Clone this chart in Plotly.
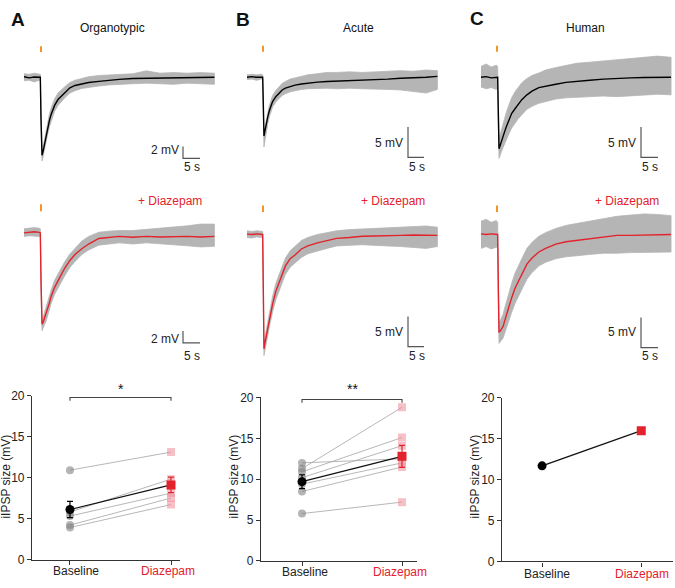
import plotly.graph_objects as go

W, H = 675, 588
FONT = "Liberation Sans, Arial, Helvetica, sans-serif"
RED = "#e3222b"
ORANGE = "#f0962a"
BAND = "#b5b5b5"

# ---------------- recorded traces (time in s, potential in mV) ----------------
tA = [0, 1.5, 3, 4.5, 4.8, 5.0, 5.3, 5.6, 6, 6.5, 7, 7.5, 8, 9, 10, 11, 12, 13.5, 15, 17,
      19, 22, 25, 28, 32, 36, 40, 44, 48, 52, 56]
A_ctrl_mean = [0.1, -0.1, 0.05, 0.0, 0.0, -7.0, -13.3, -12.7, -11.5, -9.8, -8.5, -7.3, -6.3, -4.8, -3.8,
               -3.2, -2.6, -1.8, -1.4, -1.1, -0.9, -0.7, -0.5, -0.35, -0.2, -0.15, -0.15, -0.1, -0.05, -0.05, 0.0]
A_ctrl_upper = [0.6, 0.5, 0.7, 0.5, 0.5, -5.5, -12.5, -11.9, -10.6, -8.8, -7.3, -6.2, -5.2, -3.7, -2.7,
                -2.1, -1.6, -0.9, -0.5, -0.2, 0.1, 0.3, 0.4, 0.5, 0.6, 1.1, 0.7, 0.8, 0.7, 0.8, 0.7]
A_ctrl_lower = [-0.6, -0.5, -0.8, -0.5, -0.6, -8.5, -14.3, -13.6, -12.4, -10.8, -9.6, -8.4, -7.4, -5.8, -4.8,
                -4.2, -3.5, -2.7, -2.3, -1.9, -1.7, -1.5, -1.3, -1.2, -1.1, -1.0, -1.1, -1.2, -1.0, -1.1, -1.2]
A_dzp_mean = [0.1, 0.2, 0.3, 0.2, 0.1, -8.0, -15.5, -15.2, -14.5, -13.8, -13.0, -11.8, -10.7, -9.2, -8.1,
              -7.0, -5.9, -4.6, -3.6, -2.6, -1.8, -0.85, -0.7, -0.5, -0.65, -0.5, -0.6, -0.5, -0.5, -0.6, -0.5]
A_dzp_upper = [0.8, 0.9, 1.0, 0.9, 0.8, -6.5, -14.7, -14.3, -13.5, -12.7, -11.9, -10.7, -9.6, -8.0, -6.9,
               -5.8, -4.8, -3.5, -2.5, -1.3, -0.5, 0.2, 0.4, 0.5, 0.5, 0.7, 0.8, 1.0, 1.3, 1.6, 1.6]
A_dzp_lower = [-0.5, -0.4, -0.4, -0.5, -0.6, -9.5, -16.6, -16.3, -15.6, -15.0, -14.2, -13.0, -11.9, -10.4, -9.4,
               -8.3, -7.2, -5.8, -4.8, -3.6, -2.8, -2.0, -1.8, -1.6, -1.8, -1.6, -1.7, -1.9, -2.1, -2.3, -2.2]

tB = [0, 1.5, 3, 4.5, 4.9, 5.1, 5.3, 5.6, 6, 6.5, 7, 7.5, 8, 9, 10, 11, 12, 13.5, 15, 17,
      19, 22, 25, 28, 32, 36, 40, 44, 48, 52, 56, 59.5]
B_ctrl_mean = [0.0, 0.1, 0.0, 0.05, 0.0, -4.5, -9.7, -8.9, -7.7, -6.5, -5.5, -4.7, -4.0, -3.2, -2.7, -2.1,
               -1.8, -1.5, -1.3, -1.1, -0.95, -0.8, -0.7, -0.65, -0.55, -0.5, -0.4, -0.3, -0.15, -0.1, 0.0, 0.15]
B_ctrl_upper = [0.4, 0.5, 0.4, 0.5, 0.4, -3.5, -9.0, -8.2, -7.0, -5.7, -4.6, -3.8, -3.0, -2.2, -1.6, -1.0,
                -0.7, -0.3, -0.1, 0.2, 0.4, 0.6, 0.8, 0.8, 0.9, 0.8, 0.9, 1.0, 1.1, 1.0, 1.2, 1.1]
B_ctrl_lower = [-0.4, -0.3, -0.5, -0.3, -0.4, -6.0, -11.5, -10.6, -9.0, -7.6, -6.5, -5.6, -4.9, -4.1, -3.5, -3.0,
                -2.7, -2.4, -2.2, -2.0, -1.9, -1.8, -1.8, -1.9, -1.8, -1.9, -2.0, -2.0, -2.1, -2.3, -2.6, -2.0]
B_dzp_mean = [0.05, 0.0, 0.1, 0.0, 0.0, -9.2, -18.9, -17.9, -16.8, -15.5, -13.9, -12.4, -11.5, -9.4, -7.9, -6.6,
              -5.2, -4.0, -3.4, -2.4, -1.9, -1.4, -1.05, -0.65, -0.5, -0.3, -0.25, -0.15, -0.15, -0.1, -0.15, -0.15]
B_dzp_upper = [0.6, 0.5, 0.6, 0.5, 0.5, -7.5, -18.0, -17.0, -15.8, -14.4, -12.8, -11.2, -10.2, -8.1, -6.6, -5.2,
               -3.9, -2.7, -2.0, -1.0, -0.5, 0.0, 0.3, 0.6, 0.8, 0.9, 1.0, 1.0, 1.1, 1.2, 1.4, 1.2]
B_dzp_lower = [-0.5, -0.6, -0.4, -0.5, -0.5, -11.0, -20.0, -19.0, -17.9, -16.7, -15.2, -13.8, -12.8, -10.8, -9.3, -8.0,
               -6.6, -5.4, -4.8, -3.8, -3.2, -2.7, -2.3, -1.9, -1.8, -1.7, -1.8, -1.9, -2.0, -2.1, -2.3, -2.0]

tC = [0, 1.5, 3, 4.5, 4.9, 5.1, 5.3, 5.6, 6, 6.5, 7, 7.5, 8, 9, 10, 11, 12, 13.5, 15, 17,
      19, 22, 25, 28, 32, 36, 40, 44, 48, 52, 55.9]
C_ctrl_mean = [0.0, 0.1, -0.1, 0.0, 0.0, -6.1, -11.8, -11.3, -10.5, -9.7, -8.9, -8.1, -7.4, -6.0, -5.2,
               -4.4, -3.7, -2.9, -2.3, -1.7, -1.45, -1.15, -0.85, -0.65, -0.5, -0.3, -0.15, -0.1, -0.03, 0.0, 0.0]
C_ctrl_upper = [1.8, 2.2, 1.7, 2.0, 1.8, -4.0, -10.0, -9.5, -8.6, -7.6, -6.6, -5.7, -4.9, -3.4, -2.4,
                -1.6, -0.9, -0.2, 0.3, 0.7, 1.2, 1.6, 2.0, 2.3, 2.5, 2.7, 3.0, 3.2, 3.3, 3.5, 3.3]
C_ctrl_lower = [-1.6, -1.9, -1.7, -2.0, -1.7, -8.0, -13.4, -13.0, -12.3, -11.6, -10.9, -10.2, -9.6, -8.4, -7.6,
                -6.8, -6.2, -5.3, -4.8, -4.3, -4.0, -3.6, -3.4, -3.3, -3.2, -3.1, -3.2, -3.0, -2.9, -2.8, -2.9]
C_dzp_mean = [0.1, 0.0, 0.1, 0.0, 0.0, -9.2, -16.1, -16.0, -15.6, -15.2, -14.2, -13.2, -12.3, -10.5, -8.9,
              -7.7, -6.6, -4.9, -3.9, -2.9, -2.3, -1.6, -1.2, -1.0, -0.65, -0.4, -0.15, -0.15, -0.1, 0.0, 0.0]
C_dzp_upper = [2.2, 2.5, 2.0, 2.3, 2.0, -7.0, -14.5, -14.3, -13.8, -13.2, -12.1, -11.0, -10.0, -8.1, -6.4,
               -5.1, -4.0, -2.3, -1.3, -0.3, 0.3, 1.0, 1.5, 1.8, 2.2, 2.6, 3.0, 3.2, 3.4, 3.3, 3.1]
C_dzp_lower = [-2.3, -2.0, -2.4, -2.1, -2.2, -11.0, -18.0, -17.9, -17.5, -17.1, -16.3, -15.4, -14.6, -12.9, -11.4,
               -10.2, -9.1, -7.4, -6.3, -5.2, -4.6, -4.0, -3.7, -3.5, -3.3, -3.1, -3.1, -3.0, -3.0, -2.9, -2.9]

stim_time = {"A": 5.0, "B": 5.0, "C": 4.7}
scale_mV = {"A": 2, "B": 5, "C": 5}
scale_s = {"A": 5, "B": 5, "C": 5}

# ---------------- summary data (iIPSP size, mV) ----------------
conditions = ["Baseline", "Diazepam"]
A_baseline = [10.9, 5.8, 5.3, 4.2, 3.9]
A_diazepam = [13.1, 9.8, 8.1, 7.5, 6.7]
A_mean = [6.1, 9.1]
A_sem = [1.0, 0.95]
B_baseline = [12.0, 11.3, 10.9, 10.2, 9.4, 8.5, 5.8]
B_diazepam = [12.5, 18.8, 15.1, 14.1, 12.0, 11.5, 7.2]
B_mean = [9.7, 12.8]
B_sem = [0.85, 1.35]
C_baseline = [11.7]
C_diazepam = [16.0]
C_mean = [11.7, 16.0]
y_ticks = [0, 5, 10, 15, 20]

fig = go.Figure()
annotations = []
layout_axes = {}


def ax_key(prefix, i):
    return prefix + ("axis" if i == 1 else "axis%d" % i)


def note(x, y, text, size=12, color="#222", **kw):
    d = dict(x=x / W, y=1 - y / H, xref="paper", yref="paper", text=text, showarrow=False,
             xanchor="center", yanchor="middle", font=dict(size=size, color=color, family=FONT))
    d.update(kw)
    annotations.append(d)


def add_trace_panel(i, col, t, mean, upper, lower, color, box, anchor, stim_v, bar_px, label_px):
    xa, ya = ("x" if i == 1 else "x%d" % i), ("y" if i == 1 else "y%d" % i)
    left, right, top, bottom = box
    x0, pps, y0, ppm = anchor
    fig.add_trace(go.Scatter(x=t + t[::-1], y=upper + lower[::-1], fill="toself", fillcolor=BAND,
                             line=dict(color=BAND, width=0.8), mode="lines", xaxis=xa, yaxis=ya,
                             hoverinfo="skip", showlegend=False))
    fig.add_trace(go.Scatter(x=t, y=mean, mode="lines", line=dict(color=color, width=1.4),
                             xaxis=xa, yaxis=ya, showlegend=False))
    ts = stim_time[col]
    fig.add_trace(go.Scatter(x=[ts, ts], y=list(stim_v), mode="lines", line=dict(color=ORANGE, width=2),
                             xaxis=xa, yaxis=ya, showlegend=False))
    bx, by = bar_px
    bt = (bx - x0) / pps
    bv = -(by - y0) / ppm
    dv, dt = scale_mV[col], scale_s[col]
    fig.add_trace(go.Scatter(x=[bt, bt, bt + dt], y=[bv + dv, bv, bv], mode="lines",
                             line=dict(color="#555555", width=1.2), xaxis=xa, yaxis=ya, showlegend=False))
    (mx, my), (sx, sy) = label_px
    annotations.append(dict(x=(mx - x0) / pps, y=-(my - y0) / ppm, xref=xa, yref=ya, text="%g mV" % dv,
                            showarrow=False, xanchor="right", yanchor="middle",
                            font=dict(size=12, color="#222", family=FONT)))
    annotations.append(dict(x=(sx - x0) / pps, y=-(sy - y0) / ppm, xref=xa, yref=ya, text="%g s" % dt,
                            showarrow=False, xanchor="center", yanchor="middle",
                            font=dict(size=12, color="#222", family=FONT)))
    layout_axes[ax_key("x", i)] = dict(domain=[left / W, right / W], range=[(left - x0) / pps, (right - x0) / pps],
                                       visible=False, anchor=ya, fixedrange=True)
    layout_axes[ax_key("y", i)] = dict(domain=[1 - bottom / H, 1 - top / H],
                                       range=[-(bottom - y0) / ppm, -(top - y0) / ppm],
                                       visible=False, anchor=xa, fixedrange=True)


add_trace_panel(1, "A", tA, A_ctrl_mean, A_ctrl_upper, A_ctrl_lower, "#000000", (0, 225, 30, 178),
                (24, 3.4, 72, 6.0), (5.3, 4.3), (183, 155), ((181, 147), (192, 164)))
add_trace_panel(2, "A", tA, A_dzp_mean, A_dzp_upper, A_dzp_lower, RED, (0, 225, 185, 372),
                (24, 3.4, 232, 6.0), (5.0, 3.8), (183, 344), ((181, 340), (192, 358)))
add_trace_panel(3, "B", tB, B_ctrl_mean, B_ctrl_upper, B_ctrl_lower, "#000000", (225, 450, 30, 178),
                (247, 3.2, 72, 6.2), (5.2, 4.2), (408, 154), ((405, 139), (417, 164)))
add_trace_panel(4, "B", tB, B_dzp_mean, B_dzp_upper, B_dzp_lower, RED, (225, 450, 185, 372),
                (247, 3.2, 233, 6.2), (4.8, 3.7), (408, 348), ((405, 333), (417, 358)))
add_trace_panel(5, "C", tC, C_ctrl_mean, C_ctrl_upper, C_ctrl_lower, "#000000", (450, 675, 30, 178),
                (481, 3.4, 72, 6.2), (5.2, 4.2), (641, 154), ((638, 139), (650, 164)))
add_trace_panel(6, "C", tC, C_dzp_mean, C_dzp_upper, C_dzp_lower, RED, (450, 675, 185, 372),
                (481, 3.4, 233, 6.2), (4.8, 3.7), (641, 349), ((638, 333), (650, 358)))

PT_GRAY = "rgba(130,130,130,0.6)"
PT_PINK = "rgba(240,140,152,0.55)"
LINE_GRAY = "rgba(170,170,170,0.85)"


def add_summary(i, base, dzp, mean, sem, xbox, ybox, xrange_, stars, title_x, cat_px, cat_y):
    xa, ya = "x%d" % i, "y%d" % i
    if len(base) > 1:
        for b, d in zip(base, dzp):
            fig.add_trace(go.Scatter(x=[0, 1], y=[b, d], mode="lines+markers",
                                     line=dict(color=LINE_GRAY, width=1),
                                     marker=dict(symbol=["circle", "square"], size=8,
                                                 color=[PT_GRAY, PT_PINK], line=dict(width=0)),
                                     xaxis=xa, yaxis=ya, showlegend=False))
    if sem is not None:
        fig.add_trace(go.Scatter(x=[0], y=[mean[0]], mode="markers", marker=dict(size=1, color="rgba(0,0,0,0)"),
                                 error_y=dict(type="data", array=[sem[0]], color="#000", thickness=1.2, width=3),
                                 xaxis=xa, yaxis=ya, showlegend=False))
        fig.add_trace(go.Scatter(x=[1], y=[mean[1]], mode="markers", marker=dict(size=1, color="rgba(0,0,0,0)"),
                                 error_y=dict(type="data", array=[sem[1]], color=RED, thickness=1.2, width=3),
                                 xaxis=xa, yaxis=ya, showlegend=False))
    fig.add_trace(go.Scatter(x=[0, 1], y=mean, mode="lines+markers", line=dict(color="#111", width=1.2),
                             marker=dict(symbol=["circle", "square"], size=9, color=["#000000", RED],
                                         line=dict(width=0)),
                             xaxis=xa, yaxis=ya, showlegend=False))
    if stars:
        fig.add_trace(go.Scatter(x=[0, 0, 1, 1], y=[19.35, 19.75, 19.75, 19.35], mode="lines",
                                 line=dict(color="#444", width=1.1), xaxis=xa, yaxis=ya, showlegend=False))
        annotations.append(dict(x=0.5, y=1 - 391 / H, xref=xa, yref="paper", text=stars, showarrow=False,
                                xanchor="center", yanchor="middle",
                                font=dict(size=14, color="#111", family=FONT)))
    note(title_x, 481, "iIPSP size (mV)", textangle=-90)
    for txt, cx, clr in zip(conditions, cat_px, ["#222", RED]):
        note(cx, cat_y, txt, color=clr)
    axcommon = dict(showline=True, linecolor="#333", linewidth=1.2, ticks="outside", ticklen=4, tickwidth=1.1,
                    tickcolor="#333", showgrid=False, zeroline=False, fixedrange=True,
                    tickfont=dict(size=12, color="#222", family=FONT))
    layout_axes[ax_key("x", i)] = dict(domain=[xbox[0] / W, xbox[1] / W], range=xrange_, anchor=ya,
                                       tickvals=[0, 1], showticklabels=False, **axcommon)
    layout_axes[ax_key("y", i)] = dict(domain=[1 - ybox[0] / H, 1 - ybox[1] / H], range=[0, 20], anchor=xa,
                                       tickvals=y_ticks, **axcommon)


add_summary(7, A_baseline, A_diazepam, A_mean, A_sem, (32, 180), (566, 398), [-0.376, 1.089], "*", 6,
            (76, 168), 578)
add_summary(8, B_baseline, B_diazepam, B_mean, B_sem, (261, 417), (567.5, 400), [-0.41, 1.15], "**", 234,
            (305, 400), 579)
add_summary(9, C_baseline, C_diazepam, C_mean, None, (502, 673), (568, 400.5), [-0.404, 1.32], "", 475,
            (547, 642), 581)

# panel letters and titles
for txt, x, y in [("A", 18, 13), ("B", 243, 13), ("C", 477, 12)]:
    note(x, y, "<b>%s</b>" % txt, size=19, color="#111")
for txt, x in [("Organotypic", 113), ("Acute", 358), ("Human", 585)]:
    note(x, 22, txt, color="#111")
for x in [170, 393, 627]:
    note(x, 199, "+ Diazepam", color=RED)

fig.update_layout(width=W, height=H, margin=dict(l=0, r=0, t=0, b=0), plot_bgcolor="white",
                  paper_bgcolor="white", showlegend=False, annotations=annotations,
                  font=dict(family=FONT), **layout_axes)
fig.write_html("out.html", config={"displayModeBar": False},
               post_script="document.body.style.margin='0';document.body.style.padding='0';"
                           "document.body.style.overflow='hidden';")
